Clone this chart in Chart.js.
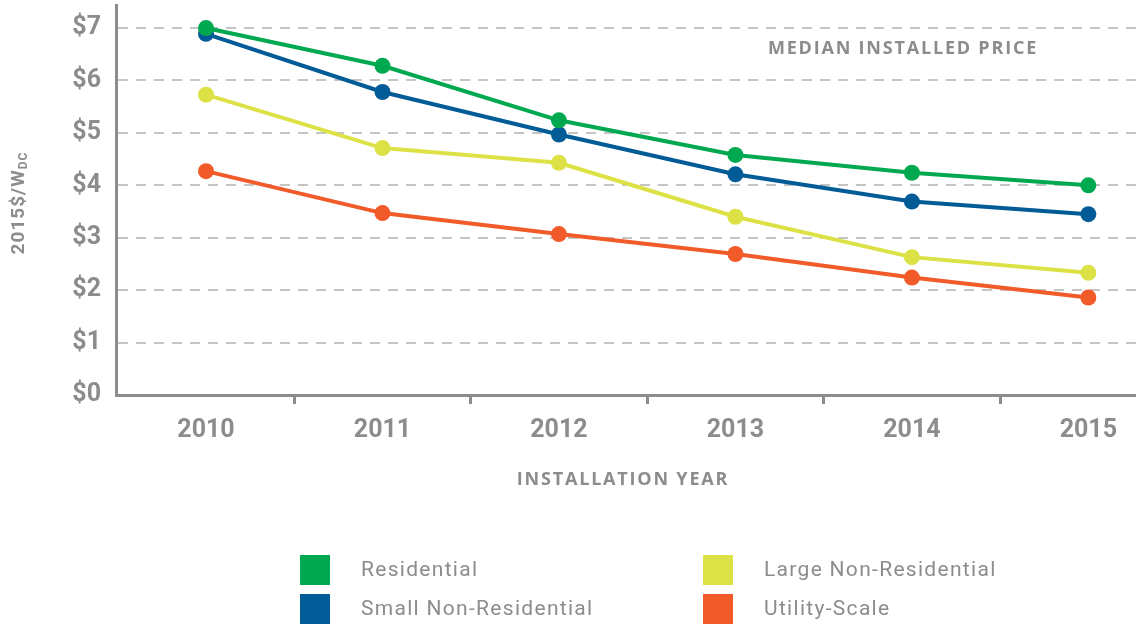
<!DOCTYPE html>
<html>
<head>
<meta charset="utf-8">
<script src="https://cdn.jsdelivr.net/npm/chart.js@4/dist/chart.umd.min.js"></script>
<style>
  html, body { margin: 0; padding: 0; background: #fff; }
  #wrap { position: relative; width: 1136px; height: 625px; }
</style>
</head>
<body>
<div id="wrap"><canvas id="grafico" width="1136" height="625"></canvas></div>
<script>
// anni e prezzi mediani (2015$/W)
const anni = [2010, 2011, 2012, 2013, 2014, 2015];
const residenziale = [7.00, 6.28, 5.24, 4.58, 4.24, 4.00];
const piccoloNonRes = [6.89, 5.78, 4.97, 4.21, 3.69, 3.45];
const grandeNonRes = [5.73, 4.71, 4.43, 3.40, 2.63, 2.33];
const utility = [4.27, 3.47, 3.07, 2.69, 2.24, 1.86];
const etichette = ["Residential", "Small Non-Residential", "Large Non-Residential", "Utility-Scale"];
const colori = ["#00a94f", "#005b96", "#dce246", "#f15a29"];
const tickY = [0, 1, 2, 3, 4, 5, 6, 7];

const grigio = "#8c8c8c";
const serie = [residenziale, piccoloNonRes, grandeNonRes, utility];

const datasets = serie.map((valori, i) => ({
  label: etichette[i],
  data: valori.map((v, k) => ({ x: anni[k], y: v })),
  borderColor: colori[i],
  backgroundColor: colori[i],
  pointBackgroundColor: colori[i],
  pointBorderWidth: 0,
  pointRadius: 8,
  borderWidth: 4,
  tension: 0
}));

// scritte extra: titolo asse y, titolo asse x, nota e legenda
const testi = {
  id: "testi",
  afterDraw(chart) {
    const ctx = chart.ctx;
    ctx.save();
    ctx.fillStyle = grigio;

    // titolo y con pedice
    ctx.translate(24, 203);
    ctx.rotate(-Math.PI / 2);
    ctx.letterSpacing = "1px";
    ctx.textBaseline = "alphabetic";
    ctx.textAlign = "left";
    const base = "2015$/W";
    ctx.font = "bold 19px Roboto";
    const wBase = ctx.measureText(base).width;
    ctx.font = "bold 12px Roboto";
    const wSub = ctx.measureText("DC").width;
    const start = -(wBase + wSub) / 2;
    ctx.font = "bold 19px Roboto";
    ctx.fillText(base, start, 0);
    ctx.font = "bold 12px Roboto";
    ctx.fillText("DC", start + wBase, 3);
    ctx.restore();

    ctx.save();
    ctx.fillStyle = grigio;
    ctx.font = "bold 18px 'Open Sans'";
    ctx.letterSpacing = "1.8px";
    ctx.textAlign = "center";
    ctx.textBaseline = "middle";
    ctx.fillText("MEDIAN INSTALLED PRICE", 903, 49);
    ctx.fillText("INSTALLATION YEAR", 623, 480);

    // legenda su due colonne
    ctx.font = "21px Roboto";
    ctx.letterSpacing = "1.3px";
    ctx.textAlign = "left";
    const colX = [300, 703];
    const rigaY = [555, 594];
    chart.data.datasets.forEach((ds, i) => {
      const cx = colX[i < 2 ? 0 : 1];
      const cy = rigaY[i % 2];
      ctx.fillStyle = ds.borderColor;
      ctx.fillRect(cx, cy, 30, 30);
      ctx.fillStyle = grigio;
      ctx.fillText(ds.label, cx + 61, cy + 16);
    });
    ctx.restore();
  }
};

new Chart("grafico", {
  type: "line",
  data: { datasets },
  options: {
    responsive: false,
    animation: false,
    layout: { autoPadding: false, padding: { top: 5, right: 0, left: 0, bottom: 0 } },
    plugins: { legend: { display: false }, tooltip: { enabled: false } },
    scales: {
      x: {
        type: "linear",
        min: 2009.49,
        max: 2015.27,
        afterBuildTicks: s => {
          const t = [];
          anni.forEach((a, k) => {
            t.push({ value: a });
            if (k < anni.length - 1) t.push({ value: a + 0.5 });
          });
          s.ticks = t;
        },
        afterFit: s => { s.height = 230; s.paddingLeft = 0; s.paddingRight = 0; },
        border: { display: true, color: grigio, width: 3 },
        grid: {
          drawOnChartArea: false,
          drawTicks: true,
          tickLength: 9,
          lineWidth: 3,
          color: c => (c.tick && c.tick.value % 1 !== 0) ? grigio : "rgba(0,0,0,0)"
        },
        ticks: {
          autoSkip: false,
          maxRotation: 0,
          padding: 12,
          color: grigio,
          font: { family: "Roboto", weight: "bold", size: 25 },
          callback: v => (v % 1 === 0 ? String(v) : "")
        }
      },
      y: {
        min: 0,
        max: 7.44,
        afterBuildTicks: s => { s.ticks = tickY.map(v => ({ value: v })); },
        afterFit: s => { s.width = 116; s.paddingTop = 0; s.paddingBottom = 0; },
        border: { display: true, color: grigio, width: 3, dash: [10, 8] },
        grid: {
          drawTicks: false,
          color: c => (c.tick && c.tick.value === 0) ? "rgba(0,0,0,0)" : "#c4c4c4",
          lineWidth: 2
        },
        ticks: {
          padding: 15,
          color: grigio,
          font: { family: "Roboto", weight: "bold", size: 25 },
          callback: v => "$" + v
        }
      }
    }
  },
  plugins: [testi]
});
</script>
</body>
</html>
